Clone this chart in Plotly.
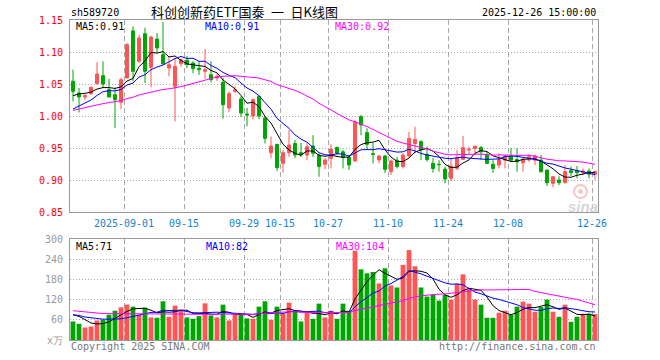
import pandas as pd
import plotly.graph_objects as go

# ---------------- data ----------------
opens = [1.0542, 1.036, 1.0297, 1.0349, 1.0505, 1.063, 1.0411, 1.0333, 1.0214, 1.0594,
         1.133, 1.0854, 1.1286, 1.076, 1.1203, 1.0958, 1.075, 1.0464, 1.0818, 1.087,
         1.0828, 1.0745, 1.0698, 1.0646, 1.0594, 1.0526, 1.0125, 1.0385, 1.0266, 1.0031,
         1.0, 1.0307, 0.997, 0.9427, 0.9557, 0.926, 0.9427, 0.957, 0.9427, 0.939,
         0.953, 0.939, 0.9245, 0.934, 0.951, 0.944, 0.9354, 0.9297, 0.999, 0.974,
         0.941, 0.9313, 0.9375, 0.913, 0.931, 0.921, 0.9375, 0.957, 0.96, 0.94,
         0.926, 0.9245, 0.917, 0.9026, 0.9182, 0.9323, 0.9469, 0.949, 0.9505, 0.939,
         0.9245, 0.9234, 0.931, 0.9375, 0.932, 0.927, 0.9313, 0.931, 0.9313, 0.9156,
         0.8948, 0.9, 0.8958, 0.9146, 0.9146, 0.9115, 0.914, 0.909]
highs = [1.0724, 1.0437, 1.035, 1.046, 1.0839, 1.0854, 1.058, 1.0437, 1.06, 1.114,
         1.14, 1.127, 1.138, 1.1253, 1.1297, 1.147, 1.093, 1.0906, 1.09, 1.094,
         1.0854, 1.085, 1.1047, 1.0854, 1.066, 1.0594, 1.0385, 1.0464, 1.0307, 1.0125,
         1.027, 1.0318, 1.0, 0.968, 0.956, 0.947, 0.978, 0.9625, 0.958, 0.957,
         0.97, 0.9417, 0.934, 0.956, 0.952, 0.947, 0.939, 0.994, 1.0016, 0.981,
         0.958, 0.939, 0.939, 0.932, 0.936, 0.9417, 0.975, 0.983, 0.962, 0.952,
         0.934, 0.931, 0.921, 0.9339, 0.947, 0.9688, 0.952, 0.953, 0.953, 0.944,
         0.931, 0.9417, 0.939, 0.9495, 0.9495, 0.936, 0.94, 0.94, 0.939, 0.916,
         0.906, 0.906, 0.9234, 0.921, 0.922, 0.918, 0.918, 0.9146]
lows = [1.0229, 1.0055, 1.025, 1.033, 1.0495, 1.0438, 1.029, 0.981, 1.011, 1.059,
        1.054, 1.083, 1.0516, 1.0448, 1.0984, 1.08, 1.062, 0.9917, 1.077, 1.075,
        1.067, 1.064, 1.058, 1.0526, 1.055, 0.9958, 1.0057, 1.036, 0.9984, 0.9839,
        0.9943, 0.995, 0.957, 0.934, 0.914, 0.9115, 0.936, 0.934, 0.936, 0.931,
        0.936, 0.905, 0.917, 0.918, 0.939, 0.918, 0.9156, 0.9286, 0.970, 0.948,
        0.926, 0.926, 0.911, 0.908, 0.918, 0.918, 0.935, 0.9417, 0.931, 0.9286,
        0.9115, 0.913, 0.895, 0.8984, 0.9156, 0.931, 0.939, 0.939, 0.932, 0.925,
        0.911, 0.918, 0.918, 0.9286, 0.913, 0.913, 0.9286, 0.9234, 0.9115, 0.8906,
        0.8885, 0.892, 0.8948, 0.906, 0.9026, 0.9078, 0.9026, 0.901]
closes = [1.0385, 1.0297, 1.0318, 1.0448, 1.0656, 1.05, 1.0297, 1.0255, 1.0568, 1.1115,
          1.0698, 1.1219, 1.0698, 1.1234, 1.1063, 1.0818, 1.08, 1.0776, 1.088, 1.0802,
          1.074, 1.0724, 1.0724, 1.0568, 1.062, 1.0177, 1.0349, 1.041, 1.0047, 1.0016,
          1.0255, 1.0, 0.965, 0.953, 0.9193, 0.9427, 0.9547, 0.939, 0.939, 0.952,
          0.9417, 0.921, 0.9313, 0.9484, 0.9417, 0.935, 0.9234, 0.991, 0.986, 0.9557,
          0.940, 0.9375, 0.9167, 0.9297, 0.921, 0.939, 0.965, 0.9635, 0.9469, 0.932,
          0.918, 0.924, 0.9016, 0.9219, 0.9349, 0.9505, 0.948, 0.953, 0.944, 0.926,
          0.918, 0.932, 0.9375, 0.931, 0.9286, 0.932, 0.9365, 0.9375, 0.913, 0.8958,
          0.9052, 0.8958, 0.913, 0.9115, 0.9115, 0.914, 0.909, 0.913]
volumes = [55, 48, 37, 40, 58, 60, 75, 87, 97, 105,
           99, 75, 96, 67, 66, 115, 69, 102, 90, 67,
           63, 71, 109, 73, 67, 105, 58, 75, 76, 64,
           63, 99, 115, 60, 99, 79, 111, 87, 55, 81,
           63, 108, 67, 87, 63, 108, 87, 265, 210, 198,
           202, 168, 213, 162, 156, 223, 267, 219, 156, 129,
           134, 117, 134, 120, 167, 195, 152, 120, 105, 66,
           66, 81, 87, 75, 99, 114, 108, 84, 98, 120,
           84, 69, 105, 54, 69, 78, 78, 77]

# closes / volumes before the visible window (estimated from where the MA lines start)
prior_closes = [0.975, 0.978, 0.985, 0.980, 0.988, 0.983, 0.990,
                1.000, 1.012, 1.008, 1.015, 1.010,
                1.030, 1.045, 1.040, 1.048, 1.035, 1.030,
                1.005, 0.998,
                0.985, 0.992, 0.988, 0.995, 0.990,
                1.015, 1.028, 1.035, 1.042]
prior_volumes = [110, 95, 88, 120, 85, 78, 92, 105, 98, 86,
                 80, 95, 102, 90, 84, 88, 96, 100, 87, 81,
                 70, 82, 68, 80, 75,
                 72, 85, 90, 73]

tick_dates = ["2025-09-01", "2025-09-15", "2025-09-29", "2025-10-15", "2025-10-27",
              "2025-11-10", "2025-11-24", "2025-12-08", "2025-12-26"]
tick_labels = ["2025-09-01", "09-15", "09-29", "10-15", "10-27",
               "11-10", "11-24", "12-08", "12-26"]
holidays = ["2025-10-01", "2025-10-02", "2025-10-03", "2025-10-06", "2025-10-07", "2025-10-08"]
price_ticks = [0.85, 0.90, 0.95, 1.00, 1.05, 1.10, 1.15]
vol_ticks = [0, 60, 120, 180, 240, 300]
vol_tick_labels = ["x万", "60", "120", "180", "240", "300"]

# ---------------- derived ----------------
dates = [d.strftime("%Y-%m-%d") for d in pd.bdate_range("2025-08-19", "2025-12-26")]
dates = [d for d in dates if d not in holidays]
n = len(closes)
xs = list(range(n))
tickvals = [dates.index(d) - 0.5 for d in tick_dates]

cs = pd.Series(prior_closes + closes)
vs = pd.Series(prior_volumes + volumes)
k = len(prior_closes)
ma = {p: cs.rolling(p).mean().iloc[k:].tolist() for p in (5, 10, 30)}
vma = {p: vs.rolling(p).mean().iloc[k:].tolist() for p in (5, 10, 30)}

RED = "#ff5555"
GREEN = "#00a600"
MA_COL = {5: "#000000", 10: "#0000ff", 30: "#ff00ff"}
vcolors = [RED if c >= o else GREEN for o, c in zip(opens, closes)]

W, H = 660, 360
def fx(px): return px / W
def fy(py): return 1 - py / H

MONO = "DejaVu Sans Mono"

fig = go.Figure()
fig.add_trace(go.Candlestick(
    x=xs, open=opens, high=highs, low=lows, close=closes,
    increasing=dict(line=dict(color=RED, width=1), fillcolor=RED),
    decreasing=dict(line=dict(color=GREEN, width=1), fillcolor=GREEN),
    whiskerwidth=0, xaxis="x", yaxis="y", hoverinfo="skip"))
for p in (5, 10, 30):
    fig.add_trace(go.Scatter(x=xs, y=ma[p], mode="lines",
                             line=dict(color=MA_COL[p], width=1),
                             xaxis="x", yaxis="y", hoverinfo="skip"))
fig.add_trace(go.Bar(x=xs, y=volumes, marker=dict(color=vcolors, line=dict(width=0)),
                     xaxis="x2", yaxis="y2", hoverinfo="skip"))
for p in (5, 10, 30):
    fig.add_trace(go.Scatter(x=xs, y=vma[p], mode="lines",
                             line=dict(color=MA_COL[p], width=1),
                             xaxis="x2", yaxis="y2", hoverinfo="skip"))

GRID = "#a9a9a9"
FRAME = "#999999"
common_x = dict(range=[-0.5, n - 0.5], tickvals=tickvals, showgrid=True,
                gridcolor=GRID, griddash="5px,3px", gridwidth=1, zeroline=False,
                showline=True, linecolor=FRAME, linewidth=1, mirror=True, ticks="",
                automargin=False, fixedrange=True)
common_y = dict(showgrid=True, gridcolor=GRID, griddash="1px,2px", gridwidth=1,
                zeroline=False, showline=True, linecolor=FRAME, linewidth=1,
                mirror=True, ticks="", ticklabelstandoff=4, automargin=False,
                fixedrange=True)
fig.update_layout(
    template="none",
    width=W, height=H, margin=dict(l=0, r=0, t=0, b=0, pad=0, autoexpand=False),
    paper_bgcolor="white", plot_bgcolor="white", showlegend=False, bargap=0.2,
    xaxis=dict(domain=[fx(70), fx(598)], anchor="y", ticktext=tick_labels,
               tickfont=dict(family=MONO, size=10, color="#1a80cc"),
               ticklabelstandoff=2, rangeslider=dict(visible=False), **common_x),
    yaxis=dict(domain=[fy(212), fy(20)], range=[0.85, 1.15], tickvals=price_ticks,
               tickformat=".2f", tickfont=dict(family=MONO, size=10, color="#ff0000"),
               **common_y),
    xaxis2=dict(domain=[fx(70), fx(598)], anchor="y2", showticklabels=False, **common_x),
    yaxis2=dict(domain=[fy(340), fy(239)], range=[0, 300], tickvals=vol_ticks,
                ticktext=vol_tick_labels,
                tickfont=dict(family=MONO, size=10, color="#999999"), **common_y),
)

def note(text, px, py, color="#000000", anchor="left", size=10, family=MONO):
    fig.add_annotation(text=text, x=fx(px), y=fy(py), xref="paper", yref="paper",
                       xanchor=anchor, yanchor="middle", showarrow=False,
                       font=dict(family=family, size=size, color=color))

note("sh589720", 69, 13)
note("科创创新药ETF国泰\u2002一\u2002日K线图", 244, 12, anchor="center", size=13,
     family="Noto Sans CJK SC")
note("2025-12-26 15:00:00", 598, 13, anchor="right")
note("MA5:0.91", 74, 27, MA_COL[5])
note("MA10:0.91", 203, 27, MA_COL[10])
note("MA30:0.92", 333, 27, MA_COL[30])
note("MA5:71", 74, 246, MA_COL[5])
note("MA10:82", 204, 246, MA_COL[10])
note("MA30:104", 334, 246, MA_COL[30])
note("Copyright 2025 SINA.COM", 69, 346, "#777777")
note("http://finance.sina.com.cn", 598, 346, "#777777", anchor="right")
# faint sina watermark (eye + word)
fig.add_shape(type="circle", xref="paper", yref="paper",
              x0=fx(574), x1=fx(587), y0=fy(198), y1=fy(185),
              line=dict(color="#f6c4c4", width=2), fillcolor="rgba(0,0,0,0)")
fig.add_shape(type="circle", xref="paper", yref="paper",
              x0=fx(578.5), x1=fx(582.5), y0=fy(193.5), y1=fy(189.5),
              line=dict(color="#f6c4c4", width=1), fillcolor="#f6c4c4")
note("<i><b>sina</b></i>", 583, 206, "#d6d6d6", anchor="center", size=15,
     family="Liberation Sans")

fig.write_html("out.html", config={"displayModeBar": False, "responsive": False},
               post_script="document.body.style.margin='0px';"
                           "document.body.style.overflow='hidden';")
